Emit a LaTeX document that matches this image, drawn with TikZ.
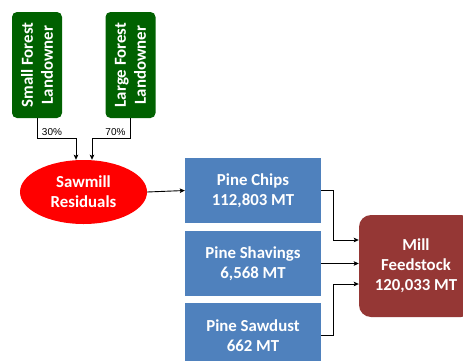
\documentclass[tikz,border=0pt]{standalone}
\usepackage{fontspec}
\setmainfont{Carlito}
\newfontfamily\arialf{Liberation Sans}
\usetikzlibrary{shapes.geometric,arrows.meta}
\definecolor{ogreen}{RGB}{0,97,0}
\definecolor{oblue}{RGB}{79,129,189}
\definecolor{ored}{RGB}{255,0,0}
\definecolor{omill}{RGB}{149,55,53}
\begin{document}
\begin{tikzpicture}[x=1pt,y=1pt,
  txt/.style={text=white,font=\fontsize{16.8}{20}\selectfont\bfseries,align=center,inner sep=0pt},
  ownerbox/.style={fill=ogreen,rounded corners=5pt,minimum width=50pt,minimum height=106pt,inner sep=0pt},
  prodbox/.style={txt,fill=oblue,minimum width=136pt,minimum height=65pt},
  conn/.style={draw=black,line width=0.9pt,-{Stealth[length=5pt,width=4.5pt,inset=1pt]}},
  pct/.style={font=\arialf\fontsize{10}{12}\selectfont,inner sep=0pt}]
\clip (0,0) rectangle (463,360);
\fill[white] (0,0) rectangle (463,360);
\node[ownerbox] (sf) at (37,295) {};
\node[txt,rotate=90] (sft) at (sf.center) {Small Forest\\Landowner};
\node[ownerbox] (lf) at (130.5,295) {};
\node[txt,rotate=90] (lft) at (lf.center) {Large Forest\\Landowner};
\node[txt,ellipse,fill=ored,minimum width=127pt,minimum height=64pt] (saw) at (83.5,168) {Sawmill\\Residuals};
\node[prodbox] (chips) at (253,169.5) {Pine Chips\\112,803 MT};
\node[prodbox] (shav) at (253,96.5) {Pine Shavings\\6,568 MT};
\node[prodbox,text height=34pt,anchor=north] (dust) at (253,57) {};
\node[txt] (dustt) at (253,24.5) {Pine Sawdust\\662 MT};
\node[txt,fill=omill,rounded corners=12pt,minimum width=114pt,minimum height=102pt] (mill) at (416,94) {Mill\\Feedstock\\120,033 MT};
\node[pct] (p30) at (52,228) {30\%};
\node[pct] (p70) at (115.5,228) {70\%};
\draw[conn] (sf.south) -- ++(0,-20) -| ([xshift=-7.5pt]saw.north);
\draw[conn] (lf.south) -- ++(0,-20) -| ([xshift=8.5pt]saw.north);
\draw[conn] (saw.east) -- (chips.west);
\draw[conn] (chips.east) -- ++(12,0) |- ([yshift=26pt]mill.west);
\draw[conn] (shav.east) -- (shav.east -| mill.west);
\draw[conn] (dustt.east -| dust.east) -- ++(12,0) |- ([yshift=-18pt]mill.west);
\end{tikzpicture}
\end{document}
